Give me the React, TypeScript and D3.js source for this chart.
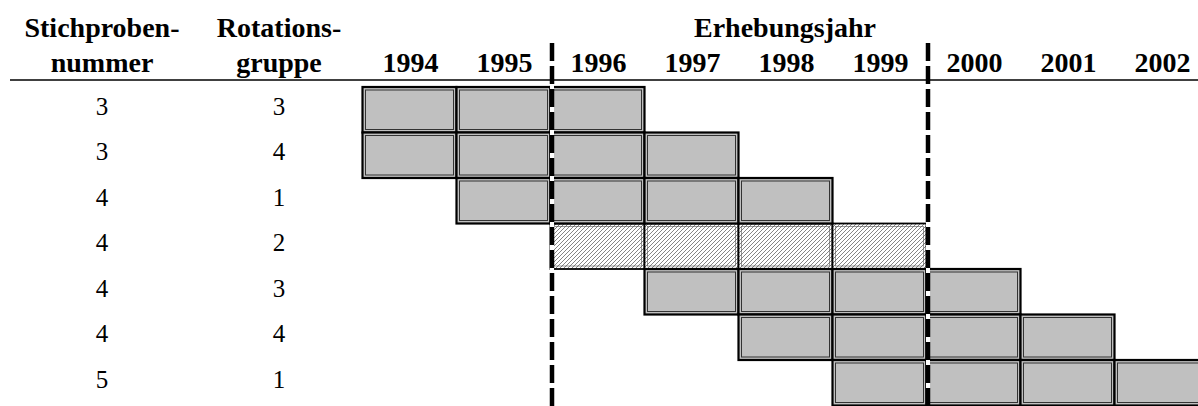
import React from "react";
import * as d3 from "d3";

const years = ["1994", "1995", "1996", "1997", "1998", "1999", "2000", "2001", "2002"];
const stichprobe = ["3", "3", "4", "4", "4", "4", "5"];
const rotation = ["3", "4", "1", "2", "3", "4", "1"];
const firstYear = ["1994", "1994", "1995", "1996", "1997", "1998", "1999"];
const lastYear = ["1996", "1997", "1998", "1999", "2000", "2001", "2002"];
const hatched = [false, false, false, true, false, false, false];
const breakYears = ["1996", "2000"];
const headerLeft = ["Stichproben-", "nummer"];
const headerMid = ["Rotations-", "gruppe"];
const headerTop = "Erhebungsjahr";

const W = 1198;
const H = 406;
const FONT = "'Liberation Serif', 'Times New Roman', serif";

export default function App() {
  const x = d3.scaleBand().domain(years).range([362.5, 362.5 + 94 * years.length]).padding(0);
  const rowIdx = stichprobe.map((_, i) => String(i));
  const y = d3.scaleBand().domain(rowIdx).range([87, 87 + 45.5 * rowIdx.length]).padding(0);
  const bw = x.bandwidth();
  const bh = y.bandwidth();
  const col1 = 102;
  const col2 = 279;

  const cells: { r: number; yr: string; hatch: boolean }[] = [];
  rowIdx.forEach((_, i) => {
    const a = years.indexOf(firstYear[i]);
    const b = years.indexOf(lastYear[i]);
    for (let k = a; k <= b; k++) cells.push({ r: i, yr: years[k], hatch: hatched[i] });
  });
  const plain = cells.filter((c) => !c.hatch);
  const hatch = cells.filter((c) => c.hatch);

  return (
    <>
      <style>{`body{margin:0}`}</style>
      <svg width={W} height={H} style={{ display: "block", background: "#fff" }}>
        <defs>
          <pattern id="hatch" patternUnits="userSpaceOnUse" width={4} height={4}>
            <rect width={4} height={4} fill="#fff" />
            <path d="M-1,1 l2,-2 M0,4 l4,-4 M3,5 l2,-2" stroke="#666" strokeWidth={0.8} />
          </pattern>
        </defs>

        {/* headers */}
        <g fontFamily={FONT} fontWeight="bold" fontSize={28} textAnchor="middle" fill="#000">
          <text x={col1} y={37}>{headerLeft[0]}</text>
          <text x={col1} y={72}>{headerLeft[1]}</text>
          <text x={col2} y={37}>{headerMid[0]}</text>
          <text x={col2} y={72}>{headerMid[1]}</text>
          <text x={785} y={37}>{headerTop}</text>
          {years.map((yr) => (
            <text key={yr} x={(x(yr) as number) + bw / 2 + 1} y={72}>
              {yr}
            </text>
          ))}
        </g>
        <line x1={10} x2={W} y1={80} y2={80} stroke="#000" strokeWidth={1.5} />

        {/* row labels */}
        <g fontFamily={FONT} fontSize={25} textAnchor="middle" fill="#000">
          {rowIdx.map((r, i) => (
            <g key={r}>
              <text x={col1} y={(y(r) as number) + 27.5}>{stichprobe[i]}</text>
              <text x={col2} y={(y(r) as number) + 27.5}>{rotation[i]}</text>
            </g>
          ))}
        </g>

        {/* hatched cells */}
        {hatch.map((c, k) => {
          const cx = x(c.yr) as number;
          const cy = y(String(c.r)) as number;
          return (
            <g key={"h" + k}>
              <rect x={cx} y={cy} width={bw} height={bh} fill="url(#hatch)" stroke="#000" strokeWidth={1.8} />
              <rect x={cx + 3} y={cy + 3} width={bw - 6} height={bh - 6} fill="none" stroke="#555" strokeWidth={0.6} />
            </g>
          );
        })}

        {/* gray cells */}
        {plain.map((c, k) => {
          const cx = x(c.yr) as number;
          const cy = y(String(c.r)) as number;
          return (
            <g key={"p" + k}>
              <rect x={cx} y={cy} width={bw} height={bh} fill="#c0c0c0" stroke="#000" strokeWidth={2.2} />
              <rect x={cx + 3} y={cy + 3} width={bw - 6} height={bh - 6} fill="none" stroke="#333" strokeWidth={1} />
            </g>
          );
        })}

        {/* dashed break lines */}
        {breakYears.map((yr) => {
          const lx = (x(yr) as number) + 1.5;
          return (
            <g key={"d" + yr}>
              <line x1={lx} x2={lx} y1={43} y2={H} stroke="#fff" strokeWidth={4} />
              <line x1={lx} x2={lx} y1={43} y2={H} stroke="#000" strokeWidth={4.5} strokeDasharray="18,5" />
            </g>
          );
        })}
      </svg>
    </>
  );
}
